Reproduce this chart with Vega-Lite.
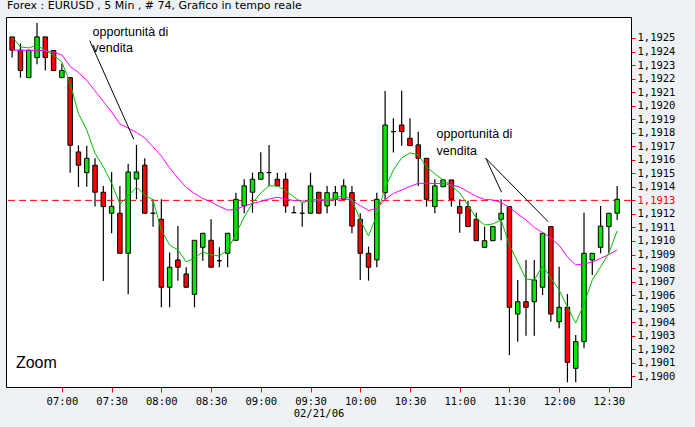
{
  "$schema": "https://vega.github.io/schema/vega-lite/v6.json",
  "width": 625,
  "height": 370,
  "autosize": {"type": "none"},
  "padding": {"left": 6, "top": 17, "right": 64, "bottom": 40},
  "background": "#eef2f5",
  "title": {"text": "Forex : EURUSD , 5 Min , # 74, Grafico in tempo reale", "anchor": "start", "frame": "group", "font": "DejaVu Sans", "fontSize": 11, "fontWeight": "normal", "color": "#000000", "offset": 4, "dx": 1, "dy": 9, "baseline": "bottom"},
  "config": {"view": {"fill": "white", "stroke": "black", "strokeWidth": 1}},
  "resolve": {"axis": {"x": "independent", "y": "independent"}},
  "datasets": {
    "candles": [
      {"t":"2006-02-21T06:30","o":1.192508,"h":1.192508,"l":1.192355,"c":1.19241,"g":1.192508,"m":1.192411},
      {"t":"2006-02-21T06:35","o":1.19241,"h":1.19246,"l":1.192207,"c":1.19226,"g":1.192434,"m":1.192409},
      {"t":"2006-02-21T06:40","o":1.192207,"h":1.19241,"l":1.192207,"c":1.19241,"g":1.192427,"m":1.192409},
      {"t":"2006-02-21T06:45","o":1.192355,"h":1.19261,"l":1.192306,"c":1.192508,"g":1.192446,"m":1.192408},
      {"t":"2006-02-21T06:50","o":1.192508,"h":1.192508,"l":1.19226,"c":1.192355,"g":1.192409,"m":1.192407},
      {"t":"2006-02-21T06:55","o":1.192407,"h":1.192407,"l":1.19226,"c":1.19226,"g":1.192373,"m":1.192395},
      {"t":"2006-02-21T07:00","o":1.192207,"h":1.19231,"l":1.192207,"c":1.19226,"g":1.192323,"m":1.192375},
      {"t":"2006-02-21T07:05","o":1.192207,"h":1.192207,"l":1.191505,"c":1.191707,"g":1.192163,"m":1.19229},
      {"t":"2006-02-21T07:10","o":1.191658,"h":1.191707,"l":1.191399,"c":1.19156,"g":1.191941,"m":1.192245},
      {"t":"2006-02-21T07:15","o":1.191505,"h":1.191704,"l":1.191401,"c":1.191611,"g":1.19182,"m":1.192186},
      {"t":"2006-02-21T07:20","o":1.19156,"h":1.191611,"l":1.191254,"c":1.19136,"g":1.191648,"m":1.192109},
      {"t":"2006-02-21T07:25","o":1.19136,"h":1.191407,"l":1.190704,"c":1.191254,"g":1.191549,"m":1.192031},
      {"t":"2006-02-21T07:30","o":1.191205,"h":1.19151,"l":1.191057,"c":1.191256,"g":1.191426,"m":1.191953},
      {"t":"2006-02-21T07:35","o":1.191205,"h":1.191407,"l":1.190909,"c":1.190909,"g":1.191273,"m":1.191865},
      {"t":"2006-02-21T07:40","o":1.190909,"h":1.19157,"l":1.190606,"c":1.19151,"g":1.191333,"m":1.191834},
      {"t":"2006-02-21T07:45","o":1.191458,"h":1.19171,"l":1.191308,"c":1.19151,"g":1.191397,"m":1.191802},
      {"t":"2006-02-21T07:50","o":1.19156,"h":1.191611,"l":1.191205,"c":1.191205,"g":1.19134,"m":1.191762},
      {"t":"2006-02-21T07:55","o":1.191205,"h":1.191308,"l":1.191106,"c":1.191205,"g":1.191303,"m":1.191695},
      {"t":"2006-02-21T08:00","o":1.19116,"h":1.191308,"l":1.19051,"c":1.190658,"g":1.191081,"m":1.191628},
      {"t":"2006-02-21T08:05","o":1.190658,"h":1.190914,"l":1.19051,"c":1.190806,"g":1.19097,"m":1.19154},
      {"t":"2006-02-21T08:10","o":1.19086,"h":1.19111,"l":1.190707,"c":1.190806,"g":1.190934,"m":1.191465},
      {"t":"2006-02-21T08:15","o":1.190756,"h":1.190806,"l":1.190658,"c":1.190658,"g":1.190845,"m":1.191396},
      {"t":"2006-02-21T08:20","o":1.190606,"h":1.191005,"l":1.19051,"c":1.191005,"g":1.190874,"m":1.191351},
      {"t":"2006-02-21T08:25","o":1.190953,"h":1.191057,"l":1.190854,"c":1.191057,"g":1.190919,"m":1.191314},
      {"t":"2006-02-21T08:30","o":1.191005,"h":1.19116,"l":1.190806,"c":1.190806,"g":1.190897,"m":1.191288},
      {"t":"2006-02-21T08:35","o":1.190854,"h":1.190953,"l":1.190806,"c":1.190854,"g":1.190889,"m":1.191255},
      {"t":"2006-02-21T08:40","o":1.190909,"h":1.191057,"l":1.190806,"c":1.191057,"g":1.190934,"m":1.191229},
      {"t":"2006-02-21T08:45","o":1.191005,"h":1.191357,"l":1.191005,"c":1.191308,"g":1.191052,"m":1.191233},
      {"t":"2006-02-21T08:50","o":1.191259,"h":1.191456,"l":1.191205,"c":1.191407,"g":1.191177,"m":1.191259},
      {"t":"2006-02-21T08:55","o":1.19136,"h":1.191505,"l":1.191209,"c":1.191456,"g":1.191281,"m":1.191277},
      {"t":"2006-02-21T09:00","o":1.191456,"h":1.191656,"l":1.191456,"c":1.191505,"g":1.191355,"m":1.191292},
      {"t":"2006-02-21T09:05","o":1.191505,"h":1.19171,"l":1.191407,"c":1.191505,"g":1.191407,"m":1.19131},
      {"t":"2006-02-21T09:10","o":1.191456,"h":1.191505,"l":1.191407,"c":1.191407,"g":1.191407,"m":1.191323},
      {"t":"2006-02-21T09:15","o":1.191456,"h":1.191505,"l":1.191209,"c":1.191259,"g":1.19137,"m":1.19131},
      {"t":"2006-02-21T09:20","o":1.191209,"h":1.191259,"l":1.191209,"c":1.191209,"g":1.191326,"m":1.191299},
      {"t":"2006-02-21T09:25","o":1.191205,"h":1.19128,"l":1.191106,"c":1.191205,"g":1.191281,"m":1.191296},
      {"t":"2006-02-21T09:30","o":1.191205,"h":1.191505,"l":1.191205,"c":1.191407,"g":1.191303,"m":1.191292},
      {"t":"2006-02-21T09:35","o":1.19136,"h":1.19136,"l":1.191205,"c":1.191205,"g":1.191308,"m":1.191296},
      {"t":"2006-02-21T09:40","o":1.191259,"h":1.191407,"l":1.191205,"c":1.191357,"g":1.191303,"m":1.191299},
      {"t":"2006-02-21T09:45","o":1.191308,"h":1.191407,"l":1.191259,"c":1.191357,"g":1.191318,"m":1.191307},
      {"t":"2006-02-21T09:50","o":1.191308,"h":1.191456,"l":1.191308,"c":1.191407,"g":1.19134,"m":1.191314},
      {"t":"2006-02-21T09:55","o":1.191357,"h":1.191407,"l":1.191057,"c":1.19111,"g":1.191303,"m":1.191299},
      {"t":"2006-02-21T10:00","o":1.19116,"h":1.191205,"l":1.190712,"c":1.190909,"g":1.191155,"m":1.191262},
      {"t":"2006-02-21T10:05","o":1.190909,"h":1.190958,"l":1.190707,"c":1.190806,"g":1.191037,"m":1.191225},
      {"t":"2006-02-21T10:10","o":1.19086,"h":1.191357,"l":1.190806,"c":1.191308,"g":1.191192,"m":1.19124},
      {"t":"2006-02-21T10:15","o":1.191357,"h":1.192109,"l":1.191305,"c":1.191857,"g":1.191392,"m":1.191307},
      {"t":"2006-02-21T10:20","o":1.191808,"h":1.191907,"l":1.191653,"c":1.191808,"g":1.191525,"m":1.191351},
      {"t":"2006-02-21T10:25","o":1.191857,"h":1.19211,"l":1.191704,"c":1.191808,"g":1.191614,"m":1.191377},
      {"t":"2006-02-21T10:30","o":1.191759,"h":1.191907,"l":1.191704,"c":1.191704,"g":1.191651,"m":1.191403},
      {"t":"2006-02-21T10:35","o":1.19171,"h":1.191808,"l":1.191407,"c":1.191611,"g":1.191636,"m":1.191426},
      {"t":"2006-02-21T10:40","o":1.191611,"h":1.191611,"l":1.191254,"c":1.191308,"g":1.191547,"m":1.191426},
      {"t":"2006-02-21T10:45","o":1.191254,"h":1.191456,"l":1.191205,"c":1.191407,"g":1.191496,"m":1.191425},
      {"t":"2006-02-21T10:50","o":1.191401,"h":1.191456,"l":1.191401,"c":1.191451,"g":1.191451,"m":1.191425},
      {"t":"2006-02-21T10:55","o":1.191451,"h":1.191451,"l":1.191254,"c":1.191308,"g":1.191407,"m":1.191414},
      {"t":"2006-02-21T11:00","o":1.191254,"h":1.191308,"l":1.19106,"c":1.191205,"g":1.191355,"m":1.191399},
      {"t":"2006-02-21T11:05","o":1.191254,"h":1.191298,"l":1.191106,"c":1.191106,"g":1.191266,"m":1.191364},
      {"t":"2006-02-21T11:10","o":1.19116,"h":1.191209,"l":1.191002,"c":1.191002,"g":1.19117,"m":1.191329},
      {"t":"2006-02-21T11:15","o":1.190953,"h":1.191106,"l":1.190953,"c":1.191002,"g":1.191118,"m":1.191308},
      {"t":"2006-02-21T11:20","o":1.191002,"h":1.191106,"l":1.191002,"c":1.191106,"g":1.191126,"m":1.191303},
      {"t":"2006-02-21T11:25","o":1.19116,"h":1.191308,"l":1.191005,"c":1.191205,"g":1.191155,"m":1.191285},
      {"t":"2006-02-21T11:30","o":1.191254,"h":1.191254,"l":1.190157,"c":1.19051,"g":1.19097,"m":1.191248},
      {"t":"2006-02-21T11:35","o":1.19046,"h":1.190712,"l":1.190256,"c":1.190551,"g":1.190845,"m":1.1912},
      {"t":"2006-02-21T11:40","o":1.190551,"h":1.19086,"l":1.1903,"c":1.19051,"g":1.190719,"m":1.191155},
      {"t":"2006-02-21T11:45","o":1.190551,"h":1.19086,"l":1.1903,"c":1.190712,"g":1.190712,"m":1.1911},
      {"t":"2006-02-21T11:50","o":1.190658,"h":1.191057,"l":1.1906,"c":1.191057,"g":1.190815,"m":1.191063},
      {"t":"2006-02-21T11:55","o":1.191106,"h":1.191106,"l":1.190403,"c":1.19046,"g":1.190727,"m":1.191022},
      {"t":"2006-02-21T12:00","o":1.190403,"h":1.19081,"l":1.190355,"c":1.19051,"g":1.190638,"m":1.190967},
      {"t":"2006-02-21T12:05","o":1.19051,"h":1.190608,"l":1.189956,"c":1.190103,"g":1.190512,"m":1.190882},
      {"t":"2006-02-21T12:10","o":1.190059,"h":1.190305,"l":1.189956,"c":1.190256,"g":1.190394,"m":1.190823},
      {"t":"2006-02-21T12:15","o":1.190256,"h":1.191209,"l":1.190207,"c":1.190909,"g":1.190534,"m":1.19083},
      {"t":"2006-02-21T12:20","o":1.19086,"h":1.190909,"l":1.190749,"c":1.190909,"g":1.190712,"m":1.190845},
      {"t":"2006-02-21T12:25","o":1.190953,"h":1.191259,"l":1.190909,"c":1.19111,"g":1.190808,"m":1.190871},
      {"t":"2006-02-21T12:30","o":1.191106,"h":1.191205,"l":1.190909,"c":1.191205,"g":1.190911,"m":1.1909},
      {"t":"2006-02-21T12:35","o":1.191205,"h":1.191407,"l":1.191155,"c":1.191308,"g":1.191074,"m":1.190933}
    ],
    "pointers": [
      {"t1":"2006-02-21T07:16:48","p1":1.19248,"t2":"2006-02-21T07:43:22","p2":1.191751},
      {"t1":"2006-02-21T11:15:46","p1":1.191611,"t2":"2006-02-21T11:25:16","p2":1.19136},
      {"t1":"2006-02-21T11:15:46","p1":1.191611,"t2":"2006-02-21T11:53:25","p2":1.191142}
    ],
    "notes": [
      {"t":"2006-02-21T07:18:30","p":1.192515,"txt":"opportunità di\nvendita"},
      {"t":"2006-02-21T10:46:04","p":1.191759,"txt":"opportunità di\nvendita"}
    ],
    "zoomlabel": [
      {"t":"2006-02-21T06:32:16","p":1.190059,"txt":"Zoom"}
    ],
    "last": [{"p": 1.1913}]
  },
  "layer": [
    {
      "data": {"name": "candles"},
      "mark": {"type": "rule", "color": "#000000", "strokeWidth": 1.2},
      "encoding": {
        "x": {
          "field": "t", "type": "temporal",
          "scale": {"domain": [{"year":2006,"month":2,"date":21,"hours":6,"minutes":29,"seconds":18},{"year":2006,"month":2,"date":21,"hours":12,"minutes":40,"seconds":20}]},
          "axis": {
            "orient": "bottom",
            "values": [
              {"year":2006,"month":2,"date":21,"hours":7,"minutes":0},
              {"year":2006,"month":2,"date":21,"hours":7,"minutes":30},
              {"year":2006,"month":2,"date":21,"hours":8,"minutes":0},
              {"year":2006,"month":2,"date":21,"hours":8,"minutes":30},
              {"year":2006,"month":2,"date":21,"hours":9,"minutes":0},
              {"year":2006,"month":2,"date":21,"hours":9,"minutes":30},
              {"year":2006,"month":2,"date":21,"hours":10,"minutes":0},
              {"year":2006,"month":2,"date":21,"hours":10,"minutes":30},
              {"year":2006,"month":2,"date":21,"hours":11,"minutes":0},
              {"year":2006,"month":2,"date":21,"hours":11,"minutes":30},
              {"year":2006,"month":2,"date":21,"hours":12,"minutes":0},
              {"year":2006,"month":2,"date":21,"hours":12,"minutes":30}
            ],
            "format": "%H:%M",
            "domain": false, "grid": false,
            "tickColor": "#ff0000", "tickSize": 5, "tickWidth": 1,
            "labelFont": "DejaVu Sans Mono", "labelFontSize": 10.5, "labelColor": "#000000", "labelPadding": 4, "labelFlush": false,
            "title": "02/21/06", "titleFont": "DejaVu Sans Mono", "titleFontSize": 10.5, "titleFontWeight": "normal", "titleColor": "#000000", "titlePadding": 2
          }
        },
        "y": {
          "field": "l", "type": "quantitative",
          "scale": {"domain": [1.189921, 1.192655], "zero": false, "nice": false},
          "axis": {
            "orient": "right",
            "values": [1.19, 1.1901, 1.1902, 1.1903, 1.1904, 1.1905, 1.1906, 1.1907, 1.1908, 1.1909, 1.191, 1.1911, 1.1912, 1.1913, 1.1914, 1.1915, 1.1916, 1.1917, 1.1918, 1.1919, 1.192, 1.1921, 1.1922, 1.1923, 1.1924, 1.1925],
            "labelExpr": "replace(format(datum.value, '.4f'), '.', ',')",
            "domain": false, "grid": false,
            "tickColor": "#ff0000", "tickSize": 4, "tickWidth": 1,
            "labelFont": "DejaVu Sans Mono", "labelFontSize": 10.5,
            "labelColor": {"condition": {"test": "abs(datum.value - 1.1913) < 0.00001", "value": "#ff0000"}, "value": "#000000"},
            "labelPadding": 2, "labelFlush": false,
            "title": null
          }
        },
        "y2": {"field": "h"}
      }
    },
    {
      "data": {"name": "last"},
      "mark": {"type": "rule", "color": "#ff0000", "strokeWidth": 1, "strokeDash": [7, 4]},
      "encoding": {"y": {"field": "p", "type": "quantitative", "axis": null}}
    },
    {
      "data": {"name": "candles"},
      "mark": {"type": "bar", "width": 4.5, "stroke": "#000000", "strokeWidth": 1},
      "encoding": {
        "x": {"field": "t", "type": "temporal", "axis": null},
        "y": {"field": "o", "type": "quantitative", "axis": null},
        "y2": {"field": "c"},
        "fill": {"condition": {"test": "datum.c < datum.o", "value": "#ff0000"}, "value": "#00e800"}
      }
    },
    {
      "data": {"name": "candles"},
      "mark": {"type": "line", "color": "#ff00ff", "strokeWidth": 1},
      "encoding": {
        "x": {"field": "t", "type": "temporal", "axis": null},
        "y": {"field": "m", "type": "quantitative", "axis": null}
      }
    },
    {
      "data": {"name": "candles"},
      "mark": {"type": "line", "color": "#00c000", "strokeWidth": 1},
      "encoding": {
        "x": {"field": "t", "type": "temporal", "axis": null},
        "y": {"field": "g", "type": "quantitative", "axis": null}
      }
    },
    {
      "data": {"name": "pointers"},
      "mark": {"type": "rule", "color": "#000000", "strokeWidth": 1},
      "encoding": {
        "x": {"field": "t1", "type": "temporal", "axis": null},
        "x2": {"field": "t2"},
        "y": {"field": "p1", "type": "quantitative", "axis": null},
        "y2": {"field": "p2"}
      }
    },
    {
      "data": {"name": "notes"},
      "mark": {"type": "text", "font": "Liberation Sans", "fontSize": 12.5, "align": "left", "baseline": "alphabetic", "lineBreak": "\n", "lineHeight": 16.5, "color": "#000000"},
      "encoding": {
        "x": {"field": "t", "type": "temporal", "axis": null},
        "y": {"field": "p", "type": "quantitative", "axis": null},
        "text": {"field": "txt"}
      }
    },
    {
      "data": {"name": "zoomlabel"},
      "mark": {"type": "text", "font": "Liberation Sans", "fontSize": 16, "align": "left", "baseline": "alphabetic", "color": "#000000"},
      "encoding": {
        "x": {"field": "t", "type": "temporal", "axis": null},
        "y": {"field": "p", "type": "quantitative", "axis": null},
        "text": {"field": "txt"}
      }
    }
  ]
}
